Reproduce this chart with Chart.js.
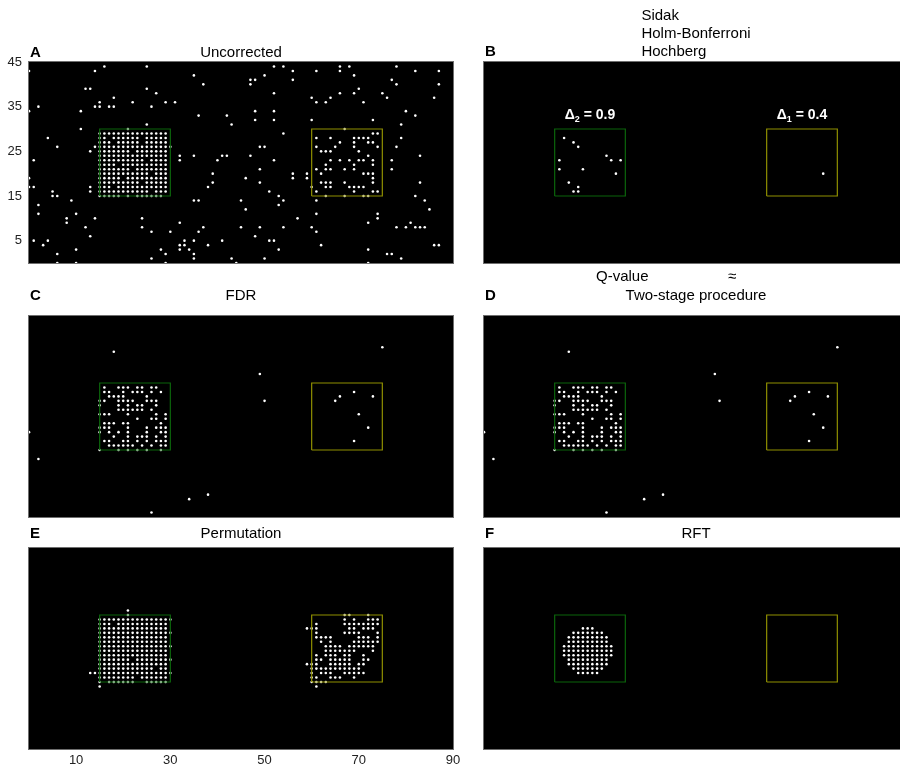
<!DOCTYPE html>
<html>
<head>
<meta charset="utf-8">
<script src="https://cdn.jsdelivr.net/npm/chart.js@4.4.1/dist/chart.umd.min.js"></script>
<style>
  html, body { margin: 0; padding: 0; background: #fff; width: 900px; height: 768px; overflow: hidden; position: relative; }
  canvas { position: absolute; }
</style>
</head>
<body>
<canvas id="pA" width="470" height="300"></canvas>
<canvas id="pB" width="470" height="300"></canvas>
<canvas id="pC" width="470" height="300"></canvas>
<canvas id="pD" width="470" height="300"></canvas>
<canvas id="pE" width="470" height="300"></canvas>
<canvas id="pF" width="470" height="300"></canvas>
<script>
// signal regions (x ranges), both span y 15..30
const greenBox = [15, 30];
const yellowBox = [60, 75];
const boxY = [15, 30];
const deltaSub = ["2", "1"];
const deltaVal = ["0.9", "0.4"];

const xTicks = [10, 30, 50, 70, 90];
const yTicks = [5, 15, 25, 35, 45];

// box contents: one string per row, first row y = 30, last y = 15, char i -> x = box start + i
// --- A: uncorrected
const uncorrGreen = [
  "......#.........",
  "###############.",
  "##.######.#####.",
  "###.#####.#####.",
  "################",
  "#######.#######.",
  "###############.",
  "##########.####.",
  "####.##########.",
  "#######.#######.",
  "###########.###.",
  "#####.#########.",
  "#########.#####.",
  "###.###########.",
  "###########.###.",
  "#####.#.######..",
];
const uncorrYellow = [
  ".......#........",
  ".............##.",
  ".#..#....####...",
  "......#..#..##..",
  ".#...#...#....#.",
  "..###.....#.....",
  "............#...",
  "....#.#.#.##.#..",
  "...#.....#...#..",
  ".#.##..#.#......",
  "..#........###..",
  ".............#..",
  "..###..#.....#..",
  "#..##...####....",
  ".#.......#...##.",
  "...#...#...##...",
];
const uncorrScatter = [
  [0,43],[14,43],[16,44],[25,44],[35,42],[50,42],[52,44],[54,44],[56,43],[61,43],[66,44],[66,43],[68,44],[69,42],[78,44],[82,43],[87,43],
  [12,39],[13,39],[25,39],[37,40],[27,38],[47,41],[48,41],[47,40],[56,41],[77,41],[78,40],[87,40],[52,38],[70,39],[66,38],[69,38],[75,38],
  [18,37],[15,36],[14,35],[15,35],[22,36],[26,35],[29,36],[31,36],[17,35],[18,35],[2,35],[0,34],[11,34],[36,33],[25,31],[11,30],
  [60,37],[61,36],[63,36],[64,37],[71,36],[76,37],[86,37],[42,33],[43,31],[48,34],[48,32],[52,34],[52,32],[60,32],[73,32],[80,34],[82,33],[79,31],
  [54,29],[79,28],[4,28],[6,26],[13,25],[14,26],[49,26],[50,26],[78,26],
  [1,23],[32,24],[32,23],[35,24],[40,23],[41,24],[42,24],[47,24],[52,23],[77,23],[77,21],[83,24],[49,21],
  [39,20],[39,18],[38,17],[0,19],[0,17],[1,17],[46,19],[49,18],[56,20],[56,19],[59,20],[59,19],[83,18],
  [5,16],[5,15],[6,15],[13,17],[13,16],[51,16],[53,15],[82,15],
  [9,14],[35,14],[36,14],[2,13],[53,13],[54,14],[45,14],[61,14],[84,14],[46,12],[85,12],
  [2,11],[10,11],[61,11],[74,11],[8,10],[14,10],[24,10],[57,10],[74,10],[8,9],[32,9],[72,9],[81,9],
  [12,8],[24,8],[37,8],[45,8],[49,8],[54,8],[60,8],[78,8],[80,8],[82,8],[83,8],[84,8],
  [26,7],[30,7],[36,7],[61,7],[13,6],[48,6],
  [1,5],[4,5],[33,5],[35,5],[41,5],[51,5],[52,5],
  [3,4],[32,4],[33,4],[38,4],[62,4],[86,4],[87,4],
  [34,3],[32,3],[10,3],[28,3],[53,3],[72,3],
  [35,2],[6,2],[29,2],[76,2],[77,2],
  [35,1],[26,1],[43,1],[50,1],[79,1],
  [6,0],[10,0],[29,0],[44,0],[72,0],
];

// --- B: Sidak / Holm-Bonferroni / Hochberg
const fwerScatter = [
  [17,28],[19,27],[20,26],[16,23],[16,21],[21,21],[26,24],[27,23],[29,23],[28,20],[18,18],[20,17],[19,16],[20,16],
  [72,20],
];

// --- C: FDR (D: Q-value / two-stage gives the same map)
const fdrGreen = [
  "................",
  ".#..###.##.##...",
  ".##..#.###.#.#..",
  "..####....#.....",
  "##..####..###...",
  "#...#.#.##..#...",
  "....######.#....",
  "###...#.....#.#.",
  "........#..##.#.",
  ".###.##......#..",
  "###...#...#.###.",
  "#.#.#.#...#..##.",
  "...#..#.###.#.#.",
  ".##..##.#.#.###.",
  "..######.#.#.##.",
  "#...#.#.#.#..#..",
];
const fdrScatter = [
  [18,37],[49,32],[50,26],[0,19],[2,13],[34,4],[38,5],[26,1],[75,38],
  [69,28],[66,27],[65,26],[73,27],[70,23],[72,20],[69,17],
];
const qvalGreen = fdrGreen;
const qvalScatter = fdrScatter;

// --- E: permutation
const permGreen = [
  "......#.........",
  "################",
  "###.###########.",
  "###############.",
  "################",
  "###############.",
  "###############.",
  "################",
  "###############.",
  "###############.",
  "#######.########",
  "###############.",
  "############.##.",
  "################",
  "########.######.",
  "#.######..#####.",
];
const permYellow = [
  ".......##...#...",
  ".......#.#..###.",
  ".#.....########.",
  "##......##.###..",
  ".#.....####...#.",
  ".####.....###.#.",
  "..#.#....######.",
  "...####.######..",
  "...#######...#..",
  ".#.###.##..#....",
  ".##.#####..##...",
  "##..#####.##....",
  "###########.....",
  "#.###..#####....",
  "##..###..#......",
  "####............",
];
const permScatter = [[21,31],[13,17],[14,17],[15,14],[59,27],[59,19],[61,14]];

// --- F: RFT
const rftGreen = [
  "................",
  "................",
  "................",
  "......###.......",
  "....#######.....",
  "...#########....",
  "...#########....",
  "..###########...",
  "..###########...",
  "..###########...",
  "...#########....",
  "...#########....",
  "....#######.....",
  ".....#####......",
  "................",
  "................",
];

function rowsToPoints(rows, x0) {
  const pts = [];
  rows.forEach((r, i) => {
    for (let j = 0; j < r.length; j++) if (r[j] === "#") pts.push({ x: x0 + j, y: boxY[1] - i });
  });
  return pts;
}
const toXY = arr => arr.map(p => ({ x: p[0], y: p[1] }));
const boxPath = xr => [
  { x: xr[0], y: boxY[0] }, { x: xr[1], y: boxY[0] }, { x: xr[1], y: boxY[1] },
  { x: xr[0], y: boxY[1] }, { x: xr[0], y: boxY[0] },
];

const FONT = "'Liberation Sans', Arial, sans-serif";

const deco = {
  id: "deco",
  beforeDraw(chart) {
    const a = chart.chartArea, c = chart.ctx;
    c.save();
    c.fillStyle = "#000";
    c.fillRect(a.left, a.top, a.right - a.left, a.bottom - a.top);
    c.restore();
  },
  afterDraw(chart, args, o) {
    const a = chart.chartArea, c = chart.ctx;
    c.save();
    c.strokeStyle = "#6e6e6e";
    c.lineWidth = 1;
    c.strokeRect(a.left - 0.5, a.top - 0.5, a.right - a.left + 1, a.bottom - a.top + 1);
    // panel letter
    c.fillStyle = "#000";
    c.textBaseline = "alphabetic";
    c.font = "bold 15px " + FONT;
    c.textAlign = "left";
    c.fillText(o.letter, a.left + 1, a.top - o.base);
    // title block (lines left aligned, block centred)
    c.font = "15px " + FONT;
    const cx = (a.left + a.right) / 2;
    const w = Math.max(...o.lines.map(l => c.measureText(l).width));
    o.lines.forEach((l, i) => {
      const y = a.top - o.base - (o.lines.length - 1 - i) * 18;
      c.fillText(l, cx - w / 2, y);
    });
    if (o.extra) {
      o.extra.forEach(e => c.fillText(e.t, e.x, a.top - e.dy));
    }
    // delta labels above the boxes
    if (o.deltas) {
      const xs = chart.scales.x, ys = chart.scales.y;
      [greenBox, yellowBox].forEach((b, k) => {
        const px = xs.getPixelForValue((b[0] + b[1]) / 2);
        const py = ys.getPixelForValue(boxY[1]) - 10;
        c.fillStyle = "#fff";
        c.font = "bold 14px " + FONT;
        const w1 = c.measureText("\u0394").width;
        const w3 = c.measureText(" = " + deltaVal[k]).width;
        c.font = "bold 9px " + FONT;
        const w2 = c.measureText(deltaSub[k]).width;
        let x = px - (w1 + w2 + w3) / 2;
        c.font = "bold 14px " + FONT;
        c.fillText("\u0394", x, py);
        c.font = "bold 9px " + FONT;
        c.fillText(deltaSub[k], x + w1, py + 3);
        c.font = "bold 14px " + FONT;
        c.fillText(" = " + deltaVal[k], x + w1 + w2, py);
      });
    }
    c.restore();
  },
};

function panel(id, left, top, points, cfg) {
  const cv = document.getElementById(id);
  cv.style.left = left + "px";
  cv.style.top = top + "px";
  new Chart(cv, {
    type: "scatter",
    data: {
      datasets: [
        { data: points, backgroundColor: "#fff", borderWidth: 0, pointRadius: 1.3, order: 2 },
        { data: boxPath(greenBox), showLine: true, borderColor: "#0b650b", borderWidth: 1.2, pointRadius: 0, order: 1 },
        { data: boxPath(yellowBox), showLine: true, borderColor: "#8f8f00", borderWidth: 1.2, pointRadius: 0, order: 1 },
      ],
    },
    options: {
      responsive: false,
      animation: false,
      events: [],
      layout: { padding: { top: 62, right: 17, left: 0, bottom: 0 } },
      plugins: { legend: { display: false }, tooltip: { enabled: false }, deco: cfg },
      scales: {
        x: {
          type: "linear", min: 0, max: 90,
          grid: { display: false, drawTicks: false }, border: { display: false },
          ticks: { display: !!cfg.showX, color: "#222", padding: 4, font: { family: FONT, size: 13 } },
          afterBuildTicks: s => { s.ticks = xTicks.map(v => ({ value: v })); },
          afterFit: s => { s.height = 37; },
        },
        y: {
          type: "linear", min: 0, max: 45,
          grid: { display: false, drawTicks: false }, border: { display: false },
          ticks: { display: !!cfg.showY, color: "#222", padding: 7, font: { family: FONT, size: 13 } },
          afterBuildTicks: s => { s.ticks = yTicks.map(v => ({ value: v })); },
          afterFit: s => { s.width = 29; },
        },
      },
    },
    plugins: [deco],
  });
}

panel("pA", 0, 0,
  rowsToPoints(uncorrGreen, greenBox[0]).concat(rowsToPoints(uncorrYellow, yellowBox[0]), toXY(uncorrScatter)),
  { letter: "A", lines: ["Uncorrected"], base: 5, showY: true });
panel("pB", 455, 0, toXY(fwerScatter),
  { letter: "B", lines: ["Sidak", "Holm-Bonferroni", "Hochberg"], base: 6, deltas: true });
panel("pC", 0, 254,
  rowsToPoints(fdrGreen, greenBox[0]).concat(toXY(fdrScatter)),
  { letter: "C", lines: ["FDR"], base: 16 });
panel("pD", 455, 254,
  rowsToPoints(qvalGreen, greenBox[0]).concat(toXY(qvalScatter)),
  { letter: "D", lines: ["Two-stage procedure"], base: 16,
    extra: [{ t: "Q-value", x: 141, dy: 35 }, { t: "\u2248", x: 273, dy: 35 }] });
panel("pE", 0, 486,
  rowsToPoints(permGreen, greenBox[0]).concat(rowsToPoints(permYellow, yellowBox[0]), toXY(permScatter)),
  { letter: "E", lines: ["Permutation"], base: 10, showX: true });
panel("pF", 455, 486, rowsToPoints(rftGreen, greenBox[0]),
  { letter: "F", lines: ["RFT"], base: 10 });
</script>
</body>
</html>
